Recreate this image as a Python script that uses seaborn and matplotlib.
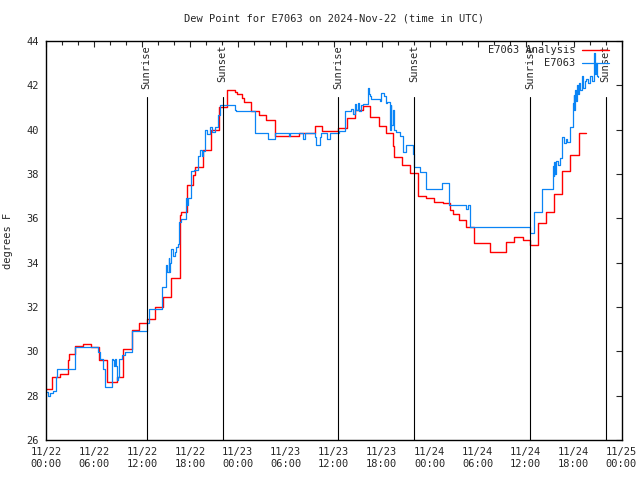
import matplotlib
matplotlib.use("Agg")
import matplotlib.pyplot as plt
import seaborn as sns
import pandas as pd

# hours since 2024-11-22 00:00 UTC, step-wise values (deg F)
analysis_hours = [0.0, 0.7, 1.75, 2.7, 2.9, 3.6, 4.67, 5.6, 6.67, 7.67, 8.83, 9.67,
                  10.7, 11.67, 12.67, 13.6, 14.58, 15.7, 16.75, 16.9, 17.58, 18.33,
                  18.6, 19.6, 20.7, 21.67, 22.67, 23.6, 23.9, 24.58, 24.75, 25.7,
                  26.67, 27.58, 28.6, 31.67, 33.6, 34.58, 36.5, 37.6, 38.6, 39.6,
                  40.58, 41.67, 42.58, 43.4, 43.6, 44.58, 45.6, 46.5, 47.6, 48.6,
                  49.67, 50.5, 50.9, 51.67, 52.58, 53.5, 55.58, 57.58, 58.6, 59.67,
                  60.5, 61.54, 62.5, 63.6, 64.6, 65.6, 66.7, 67.58]
analysis_dewpt = [28.3, 28.85, 29.0, 29.6, 29.9, 30.25, 30.32, 30.2, 29.6, 28.6, 28.85, 30.1,
                  30.95, 31.3, 31.45, 32.0, 32.47, 33.3, 36.15, 36.27, 37.5, 37.96,
                  38.33, 39.08, 40.0, 41.04, 41.79, 41.68, 41.6, 41.45, 41.25, 40.84,
                  40.66, 40.44, 39.71, 39.86, 40.17, 39.94, 40.08, 40.51, 40.89, 41.08,
                  40.59, 40.18, 39.86, 39.26, 38.75, 38.41, 38.06, 37.0, 36.9, 36.75,
                  36.67, 36.38, 36.2, 35.93, 35.62, 34.9, 34.5, 34.95, 35.17, 35.02,
                  34.8, 35.78, 36.3, 37.1, 38.14, 38.85, 39.86, 39.86]

obs_hours = [0.0, 0.29, 0.5, 0.92, 1.25, 1.42, 3.63, 6.54, 6.75, 7.17, 7.375, 8.2,
             8.35, 8.5, 8.6, 8.7, 8.83, 8.95, 9.08, 9.46, 9.875, 10.71, 12.58, 12.9,
             14.46, 15.0, 15.2, 15.35, 15.45, 15.55, 15.7, 15.9, 16.1, 16.3, 16.5,
             16.67, 16.9, 17.5, 17.65, 17.75, 18.2, 18.5, 19.0, 19.25, 19.5, 19.65,
             19.875, 20.2, 20.5, 20.8, 21.2, 21.54, 21.75, 23.6, 23.8, 26.1, 27.8,
             28.6, 30.4, 30.5, 32.2, 32.4, 33.6, 33.8, 34.25, 34.46, 35.1, 35.5,
             36.6, 37.4, 38.2, 38.4, 38.6, 38.8, 39.0, 39.2, 39.4, 39.6, 40.3, 40.4,
             40.55, 40.7, 41.8, 41.96, 42.3, 42.5, 42.6, 43.0, 43.1, 43.2, 43.4,
             43.5, 43.8, 44.25, 44.67, 45.1, 45.95, 46.04, 46.75, 47.58, 49.5, 50.4,
             52.6, 52.75, 53.0, 60.5, 61.1, 62.08, 63.4, 63.5, 63.6, 63.7, 63.8,
             64.1, 64.3, 64.6, 64.8, 65.0, 65.2, 65.5, 65.9, 66.0, 66.1, 66.2, 66.3,
             66.4, 66.5, 66.7, 66.8, 67.0, 67.2, 67.4, 67.58, 67.8, 68.0, 68.3,
             68.6, 68.7, 68.8, 68.9, 69.0]
obs_dewpt = [28.15, 28.0, 28.1, 28.2, 28.85, 29.2, 30.2, 29.95, 29.65, 29.2, 28.4, 29.65,
             29.6, 29.35, 29.65, 29.35, 28.7, 28.85, 29.65, 29.85, 29.95, 30.9, 31.3, 31.9,
             32.9, 33.9, 33.6, 34.2, 33.6, 34.0, 34.6, 34.3, 34.5, 34.7, 34.85,
             35.85, 35.95, 36.9, 36.6, 36.9, 38.15, 38.2, 38.8, 39.1, 38.8, 39.05,
             40.0, 39.8, 40.1, 39.9, 40.1, 40.66, 41.1, 40.9, 40.84, 39.86, 39.56,
             39.86, 39.7, 39.86, 39.56, 39.86, 39.65, 39.3, 39.65, 39.86, 39.56, 39.86,
             39.94, 40.84, 40.95, 40.7, 41.16, 40.9, 41.2, 40.85, 41.1, 41.16, 41.9, 41.6,
             41.5, 41.38, 41.3, 41.66, 41.5, 41.2, 41.25, 40.0, 41.1, 40.2, 40.9,
             39.99, 39.9, 39.7, 39.0, 39.3, 38.9, 38.33, 38.1, 37.31, 37.58, 36.6,
             36.4, 36.6, 35.62, 35.35, 36.3, 37.31, 38.36, 37.9, 38.55, 38.0, 38.6,
             38.4, 38.7, 39.68, 39.4, 39.6, 39.45, 40.13, 41.2, 41.56, 40.9, 41.8, 41.3,
             42.0, 41.6, 42.1, 41.8, 42.4, 41.9, 42.2, 42.3, 42.1, 42.4, 42.2,
             43.44, 42.5, 43.0, 42.4, 42.39]

sunrise_hours = [12.58, 36.55, 60.55]
sunset_hours = [22.1, 46.05, 70.0]

tick_hours = list(range(0, 73, 6))
tick_labels = ["11/22\n00:00", "11/22\n06:00", "11/22\n12:00", "11/22\n18:00",
               "11/23\n00:00", "11/23\n06:00", "11/23\n12:00", "11/23\n18:00",
               "11/24\n00:00", "11/24\n06:00", "11/24\n12:00", "11/24\n18:00",
               "11/25\n00:00"]

sns.set_style("white")
plt.rcParams['font.family'] = ['DejaVu Sans Mono', 'DejaVu Sans']

df_an = pd.DataFrame({"hour": analysis_hours, "dewpt": analysis_dewpt})
df_obs = pd.DataFrame({"hour": obs_hours, "dewpt": obs_dewpt})

fig = plt.figure(figsize=(6.4, 4.8), dpi=100)
ax = fig.add_axes([46 / 640, 40 / 480, 575.5 / 640, 399 / 480])

sns.lineplot(data=df_an, x="hour", y="dewpt", ax=ax, color="#ff0000", lw=1.0,
             drawstyle="steps-post", estimator=None, sort=False, label="E7063 Analysis")
sns.lineplot(data=df_obs, x="hour", y="dewpt", ax=ax, color="#0a84f5", lw=0.9,
             drawstyle="steps-post", estimator=None, sort=False, label="E7063")

# sunrise / sunset markers
for t in sunrise_hours:
    ax.plot([t, t], [0, 0.86], color="black", lw=0.8, transform=ax.get_xaxis_transform())
    ax.text(t, 0.99, "Sunrise", rotation=90, ha="center", va="top", fontsize=7.5,
            transform=ax.get_xaxis_transform())
for t in sunset_hours:
    ax.plot([t, t], [0, 0.86], color="black", lw=0.8, transform=ax.get_xaxis_transform())
    ax.text(t, 0.99, "Sunset", rotation=90, ha="center", va="top", fontsize=7.5,
            transform=ax.get_xaxis_transform())

ax.set_xlim(0, 72)
ax.set_ylim(26, 44)
ax.set_xticks(tick_hours)
ax.set_xticklabels(tick_labels, fontsize=7.5)
ax.set_xticks(range(0, 73, 2), minor=True)
ax.set_yticks(range(26, 45, 2))
ax.tick_params(axis="y", labelsize=7.5)
ax.tick_params(which="both", direction="in", top=True, right=True, length=4, width=0.8, pad=5)
ax.tick_params(which="minor", length=3)
for s in ax.spines.values():
    s.set_color("black")
    s.set_linewidth(1.0)

ax.set_xlabel("")
ax.set_ylabel("degrees F", fontsize=7.5, labelpad=10)
ax.set_title("Dew Point for E7063 on 2024-Nov-22 (time in UTC)", fontsize=7.5, pad=14)

ax.legend(loc="upper right", bbox_to_anchor=(0.985, 1.0), frameon=False, markerfirst=False,
          fontsize=7.5, handlelength=2.6, handletextpad=0.6, borderaxespad=0.0,
          labelspacing=0.3)

fig.savefig("out.png", dpi=100)
